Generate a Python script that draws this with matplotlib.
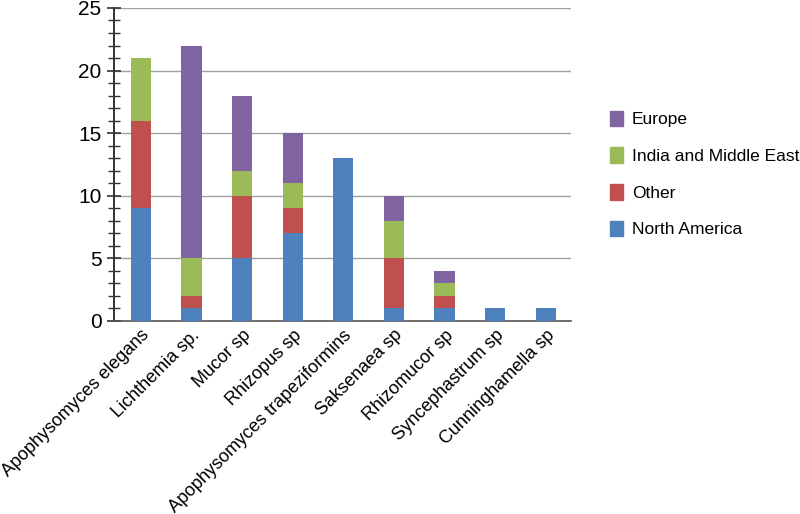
import matplotlib
matplotlib.use('Agg')
import matplotlib.pyplot as plt
import numpy as np
from matplotlib.patches import Patch

plt.rcParams['font.family'] = ['Liberation Sans', 'DejaVu Sans']

species = ['Apophysomyces elegans', 'Lichthemia sp.', 'Mucor sp', 'Rhizopus sp',
           'Apophysomyces trapeziformins', 'Saksenaea sp', 'Rhizomucor sp',
           'Syncephastrum sp', 'Cunninghamella sp']
north_america = [9, 1, 5, 7, 13, 1, 1, 1, 1]
other = [7, 1, 5, 2, 0, 4, 1, 0, 0]
india_me = [5, 3, 2, 2, 0, 3, 1, 0, 0]
europe = [0, 17, 6, 4, 0, 2, 1, 0, 0]

series = [('North America', north_america, '#4F81BD'),
          ('Other', other, '#C0504D'),
          ('India and Middle East', india_me, '#9BBB59'),
          ('Europe', europe, '#8064A2')]

fig = plt.figure(figsize=(8, 5.14), dpi=100)
ax = fig.add_axes([0.1425, 0.3755, 0.5713, 0.609])

x = np.arange(len(species))
bottom = np.zeros(len(species))
for name, vals, col in series:
    ax.bar(x, vals, 0.4, bottom=bottom, color=col, zorder=3)
    bottom += np.array(vals)

ax.set_xlim(-0.53, 8.5)
ax.set_ylim(0, 25)
ax.set_yticks(range(0, 26, 5))
ax.set_yticks(range(0, 26), minor=True)
ax.yaxis.grid(True, color='#a0a0a0', linewidth=1, zorder=0)
ax.tick_params(axis='y', which='major', direction='inout', length=10, width=1.2,
               labelsize=15, pad=4, colors='#333333', labelcolor='black')
ax.tick_params(axis='y', which='minor', direction='inout', length=8, width=1,
               colors='#333333')
ax.tick_params(axis='x', length=0, pad=4)

ax.set_xticks(x)
ax.set_xticklabels(species, rotation=45, ha='right', rotation_mode='anchor',
                   fontsize=13)

for s in ['top', 'right']:
    ax.spines[s].set_visible(False)
ax.spines['left'].set_color('#333333')
ax.spines['left'].set_linewidth(1.4)
ax.spines['bottom'].set_color('#555555')
ax.spines['bottom'].set_linewidth(1.2)

handles = [Patch(color=col, label=name) for name, vals, col in series[::-1]]
fig.legend(handles=handles, loc='upper left', bbox_to_anchor=(0.743, 0.815),
           frameon=False, fontsize=12.5, handlelength=0.75, handleheight=1.0,
           handletextpad=0.5, labelspacing=1.15)

fig.savefig('out.png', dpi=100)
